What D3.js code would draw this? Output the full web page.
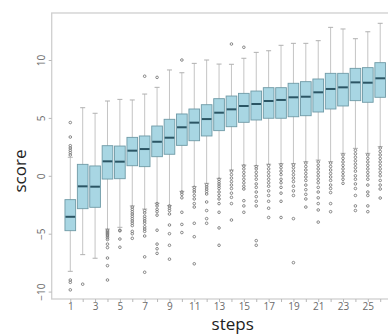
<!DOCTYPE html>
<html>
<head>
<meta charset="utf-8">
<script src="https://cdn.jsdelivr.net/npm/d3@7/dist/d3.min.js"></script>
<style>
  body { margin: 0; background: #fff; }
  svg { display: block; }
  .tick text { opacity: 0.99; }
</style>
</head>
<body>
<script>
// ------------------------------------------------------------------
// data (one box per step)
// ------------------------------------------------------------------
const steps       = [1, 2, 3, 4, 5, 6, 7, 8, 9, 10, 11, 12, 13, 14, 15, 16, 17, 18, 19, 20, 21, 22, 23, 24, 25, 26];
const q1          = [-4.74, -2.84, -2.72, -0.28, -0.25, 0.87, 0.79, 1.65, 1.86, 2.63, 3.03, 3.44, 3.9, 4.24, 4.62, 4.82, 4.97, 4.97, 5.1, 5.19, 5.51, 5.77, 6.03, 6.49, 6.35, 6.78];
const medians     = [-3.54, -0.91, -0.94, 1.25, 1.22, 2.17, 2.31, 2.94, 3.29, 4.19, 4.59, 4.9, 5.45, 5.74, 6.03, 6.2, 6.46, 6.55, 6.78, 6.83, 7.21, 7.5, 7.64, 8.07, 8.04, 8.42];
const q3          = [-2.06, 0.99, 0.85, 2.6, 2.57, 3.32, 3.44, 4.3, 4.88, 5.34, 5.77, 6.14, 6.66, 6.89, 7.12, 7.32, 7.61, 7.61, 7.99, 8.13, 8.36, 8.85, 8.85, 9.28, 9.34, 9.77];
const whiskerLow  = [-8.25, -6.81, -7.12, -4.6, -4.45, -2.6, -2.87, -2.37, -2.58, -1.34, -0.94, -0.65, -0.22, 0.5, 0.93, 0.87, 1.0, 1.05, 1.05, 1.22, 1.36, 1.22, 1.94, 2.37, 1.94, 2.52];
const whiskerHigh = [1.6, 5.88, 5.4, 6.46, 6.6, 6.55, 7.06, 7.64, 9.14, 8.9, 9.71, 10.0, 9.65, 9.63, 10.15, 10.66, 10.8, 11.27, 11.44, 11.44, 11.67, 12.82, 12.68, 11.84, 12.44, 13.17];
const outliers = [
  [1.8, 2.0, 2.2, 2.4, 2.6, 3.35, 4.6, -9.0, -9.2, -9.85],
  [-9.36],
  [],
  [-4.7, -4.8, -4.9, -5.0, -5.1, -5.2, -5.35, -5.5, -5.9, -6.2, -7.1, -7.76, -9.0],
  [-4.7, -4.75, -5.46, -6.17],
  [-2.7, -2.9, -3.1, -3.3, -3.5, -3.7, -3.9, -4.1, -4.3, -4.8, -5.0, -5.4],
  [8.6, -3.0, -3.2, -3.5, -3.7, -3.9, -4.1, -4.4, -4.6, -4.8, -5.2, -7.0, -8.33],
  [8.5, -2.4, -2.6, -2.9, -3.1, -3.4, -4.7, -5.9, -6.3, -6.7],
  [-2.6, -2.8, -3.0, -3.3, -4.25, -5.0, -6.0, -7.2],
  [10.0, -1.4, -1.6, -1.9, -3.15, -4.2, -4.9],
  [-1.0, -1.2, -1.4, -1.7, -2.0, -2.4, -2.7, -4.1, -5.26, -7.6],
  [-0.77, -0.95, -1.15, -1.35, -1.57, -2.26, -3.0, -3.7, -4.1],
  [-0.3, -0.5, -0.7, -0.9, -1.1, -1.4, -1.7, -2.0, -2.4, -3.15, -4.5, -6.0],
  [11.38, 0.4, 0.1, -0.2, -0.5, -0.8, -1.1, -1.5, -1.86, -2.4, -3.82],
  [11.1, 0.85, 0.6, 0.3, 0.0, -0.3, -0.6, -0.9, -1.14, -2.15, -2.6, -3.15],
  [0.8, 0.6, 0.3, 0.0, -0.3, -0.7, -1.0, -1.4, -1.8, -2.2, -2.6, -5.6, -6.0],
  [0.9, 0.6, 0.3, 0.0, -0.3, -0.6, -0.9, -1.3, -1.7, -2.2, -2.8, -3.6],
  [0.95, 0.7, 0.4, 0.1, -0.3, -0.6, -1.0, -1.5, -2.2, -3.6],
  [0.95, 0.7, 0.4, 0.1, -0.2, -0.5, -0.9, -1.3, -1.7, -3.7, -7.5],
  [1.1, 0.8, 0.5, 0.2, -0.1, -0.4, -0.8, -1.2, -1.6, -2.0, -2.7],
  [1.2, 0.9, 0.6, 0.3, 0.0, -0.3, -0.6, -1.0, -1.4, -1.9, -2.4, -2.95, -4.0],
  [1.1, 0.8, 0.5, 0.2, -0.1, -0.4, -0.8, -1.1, -1.45, -2.4, -3.1],
  [1.8, 1.5, 1.2, 0.9, 0.6, 0.3, 0.0, -0.3, -0.65],
  [2.2, 1.9, 1.6, 1.3, 1.0, 0.7, 0.4, 0.0, -0.3, -0.7, -1.1, -1.7, -2.6, -3.0],
  [1.8, 1.5, 1.2, 0.9, 0.6, 0.3, 0.0, -0.3, -0.8, -1.4, -1.7, -2.6, -3.1],
  [2.4, 2.1, 1.8, 1.5, 1.2, 0.9, 0.6, 0.3, 0.0, -0.4, -0.8, -1.14, -1.92]
];
const yTicks      = [-10, -5, 0, 5, 10];
const xTickLabels = [1, 3, 5, 7, 9, 11, 13, 15, 17, 19, 21, 23, 25];

// ------------------------------------------------------------------
// layout
// ------------------------------------------------------------------
const W = 388, H = 334;
const plot = { left: 51.7, top: 13, bottom: 299, right: 405 };

const svg = d3.select("body").append("svg")
  .attr("width", W)
  .attr("height", H);

// x: step position, y: score
const x = d3.scaleLinear().domain([-0.5, 28]).range([plot.left, plot.right]);
const y = d3.scaleLinear().domain([-10.64, 14.06]).range([plot.bottom, plot.top]);

const boxW = (x(2) - x(1)) * 0.86;
const capW = 5;

const data = steps.map(function(s, i) {
  return { step: s, q1: q1[i], med: medians[i], q3: q3[i],
           lo: whiskerLow[i], hi: whiskerHigh[i], out: outliers[i] };
});

// frame (right side falls outside the picture)
svg.append("rect")
  .attr("x", plot.left).attr("y", plot.top)
  .attr("width", plot.right - plot.left).attr("height", plot.bottom - plot.top)
  .attr("fill", "none").attr("stroke", "#cfcfcf").attr("stroke-width", 1.3);

// ------------------------------------------------------------------
// boxes
// ------------------------------------------------------------------
const g = svg.selectAll(".box").data(data).enter().append("g").attr("class", "box");

// whiskers
g.append("line")
  .attr("x1", d => x(d.step)).attr("x2", d => x(d.step))
  .attr("y1", d => y(d.hi)).attr("y2", d => y(d.lo))
  .attr("stroke", "#c4c4c4").attr("stroke-width", 1);

// caps
g.selectAll(".cap").data(d => [d.lo, d.hi].map(v => ({ step: d.step, v: v })))
  .enter().append("line")
  .attr("x1", d => x(d.step) - capW / 2).attr("x2", d => x(d.step) + capW / 2)
  .attr("y1", d => y(d.v)).attr("y2", d => y(d.v))
  .attr("stroke", "#b0b0b0").attr("stroke-width", 1);

// outliers
g.selectAll(".out").data(d => d.out.map(v => ({ step: d.step, v: v })))
  .enter().append("circle")
  .attr("cx", d => x(d.step)).attr("cy", d => y(d.v))
  .attr("r", 1.3)
  .attr("fill", "none").attr("stroke", "#7a7a7a").attr("stroke-width", 0.9);

// box body
g.append("rect")
  .attr("x", d => x(d.step) - boxW / 2)
  .attr("width", boxW)
  .attr("y", d => y(d.q3))
  .attr("height", d => y(d.q1) - y(d.q3))
  .attr("fill", "#a8d6e3")
  .attr("stroke", "#6f9aa6").attr("stroke-width", 0.9);

// median
g.append("line")
  .attr("x1", d => x(d.step) - boxW / 2 + 0.5).attr("x2", d => x(d.step) + boxW / 2 - 0.5)
  .attr("y1", d => y(d.med)).attr("y2", d => y(d.med))
  .attr("stroke", "#2b5564").attr("stroke-width", 2);

// ------------------------------------------------------------------
// axes
// ------------------------------------------------------------------
const xAxis = svg.append("g")
  .attr("transform", "translate(0," + plot.bottom + ")")
  .call(d3.axisBottom(x).tickValues(steps).tickSize(3).tickFormat(d => xTickLabels.includes(d) ? d : ""));
xAxis.select(".domain").remove();
xAxis.selectAll("line").attr("stroke", "#b8b8b8");
xAxis.selectAll("text")
  .attr("fill", "#6a6a6a").attr("y", 4).attr("dy", "0.71em")
  .style("font-family", "'Open Sans', sans-serif").style("font-size", "10px");

const yAxis = svg.append("g")
  .attr("transform", "translate(" + plot.left + ",0)")
  .call(d3.axisLeft(y).tickValues(yTicks).tickSize(3).tickFormat(d3.format("d")));
yAxis.select(".domain").remove();
yAxis.selectAll("line").attr("stroke", "#b8b8b8");
yAxis.selectAll("text")
  .attr("fill", "#6a6a6a")
  .attr("x", 0).attr("dy", 0)
  .attr("text-anchor", "middle")
  .attr("transform", "translate(-7,0) rotate(-90)")
  .style("font-family", "'Open Sans', sans-serif").style("font-size", "10px");

// axis titles
svg.append("text")
  .attr("x", 232.7).attr("y", 330)
  .attr("text-anchor", "middle")
  .attr("fill", "#222")
  .style("font-family", "'Open Sans', sans-serif").style("font-size", "17px")
  .text("steps");

svg.append("text")
  .attr("transform", "translate(26,171) rotate(-90)")
  .attr("text-anchor", "middle")
  .attr("fill", "#222")
  .style("font-family", "'Open Sans', sans-serif").style("font-size", "17px")
  .text("score");
</script>
</body>
</html>
